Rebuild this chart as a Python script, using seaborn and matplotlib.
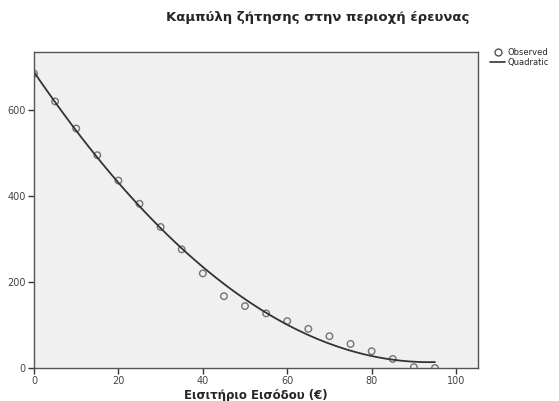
import matplotlib
matplotlib.use("Agg")
import matplotlib.pyplot as plt
import seaborn as sns
import pandas as pd
from matplotlib.lines import Line2D

price = [0, 5, 10, 15, 20, 25, 30, 35, 40, 45, 50, 55, 60, 65, 70, 75, 80, 85, 90, 95]
demand = [685, 620, 557, 495, 436, 382, 328, 276, 220, 167, 144, 127, 109, 91, 74, 56, 39, 21, 2, 0]
title = "Καμπύλη ζήτησης στην περιοχή έρευνας"
xlabel = "Εισιτήριο Εισόδου (€)"
legend_labels = ["Observed", "Quadratic"]

df = pd.DataFrame({"price": price, "demand": demand})

sns.set_style("ticks")
plt.rcParams["font.family"] = ["DejaVu Sans"]

fig = plt.figure(figsize=(5.59, 4.01), dpi=100)
ax = fig.add_axes([34/559, 1 - 368/401, (478-34)/559, (368-52)/401])
ax.set_facecolor("#f0f0f0")

sns.regplot(data=df, x="price", y="demand", order=2, ci=None, ax=ax,
            scatter_kws=dict(s=22, facecolors="none", edgecolors="#555555", linewidths=1.0),
            line_kws=dict(color="#333333", lw=1.3), truncate=True)

ax.set_xlim(0, 105.2)
ax.set_ylim(0, 735)
ax.set_xticks([0, 20, 40, 60, 80, 100])
ax.set_yticks([0, 200, 400, 600])
ax.tick_params(axis="both", labelsize=7, colors="#333333", length=4, width=1, direction="out", pad=2)
for s in ax.spines.values():
    s.set_color("#555555")
    s.set_linewidth(1.0)
ax.set_xlabel(xlabel, fontsize=8.5, fontweight="bold", labelpad=2)
ax.set_ylabel("")
for lab in ax.get_xticklabels() + ax.get_yticklabels():
    lab.set_color("#444444")

fig.text(318/559, 1 - 18/401, title, ha="center", va="center", fontsize=9.5, fontweight="bold")

handles = [Line2D([], [], marker="o", ls="none", mfc="none", mec="#555555", ms=5),
           Line2D([], [], color="#333333", lw=1.2)]
fig.legend(handles, legend_labels, loc="upper left", bbox_to_anchor=(490/559, 1 - 48/401),
           frameon=False, fontsize=6, handlelength=1.8, handletextpad=0.3, labelspacing=0.1,
           borderpad=0, borderaxespad=0)

fig.savefig("out.png", dpi=100, facecolor="white")
